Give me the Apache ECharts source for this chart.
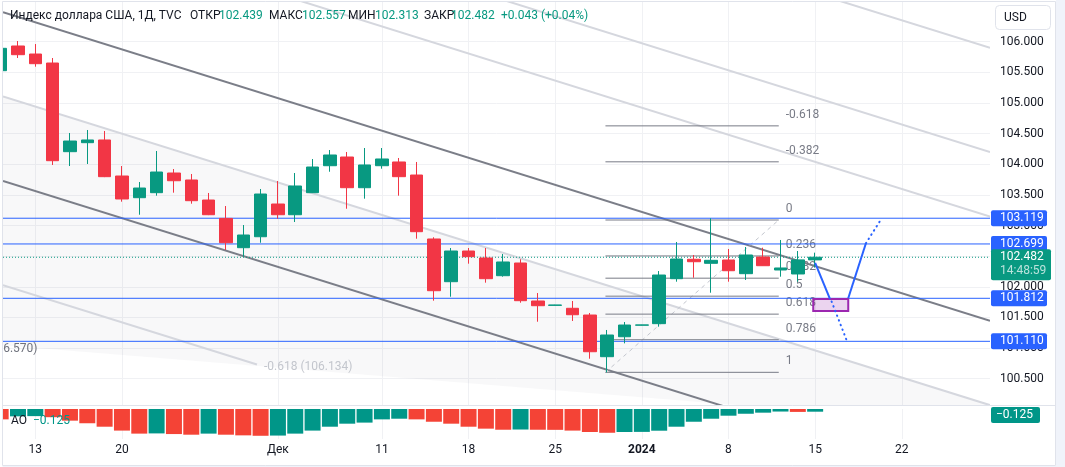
<!DOCTYPE html>
<html><head><meta charset="utf-8">
<script src="https://cdn.jsdelivr.net/npm/echarts@6/dist/echarts.min.js"></script>
<style>html,body{margin:0;padding:0;background:#fff;overflow:hidden}#c{width:1065px;height:467px}</style>
</head><body><div id="c"></div>
<script>
// ---------------- DATA ----------------
const candleDates = ['2023-11-09','2023-11-10','2023-11-13','2023-11-14','2023-11-15','2023-11-16','2023-11-17',
 '2023-11-20','2023-11-21','2023-11-22','2023-11-23','2023-11-24','2023-11-27','2023-11-28','2023-11-29','2023-11-30',
 '2023-12-01','2023-12-04','2023-12-05','2023-12-06','2023-12-07','2023-12-08','2023-12-11','2023-12-12','2023-12-13',
 '2023-12-14','2023-12-15','2023-12-18','2023-12-19','2023-12-20','2023-12-21','2023-12-22','2023-12-25','2023-12-26',
 '2023-12-27','2023-12-28','2023-12-29','2024-01-01','2024-01-02','2024-01-03','2024-01-04','2024-01-05','2024-01-08',
 '2024-01-09','2024-01-10','2024-01-11','2024-01-12','2024-01-15'];
const opens  = [105.527,105.930,105.799,105.652,104.205,104.352,104.396,103.808,103.454,103.536,103.857,103.743,103.416,103.116,102.638,102.817,
 103.351,103.176,103.536,103.976,104.118,103.617,103.976,104.037,103.824,102.780,102.083,102.584,102.470,102.181,102.388,101.768,101.697,101.649,
 101.539,100.859,101.185,101.373,101.398,102.132,102.449,102.383,102.437,102.214,102.486,102.274,102.209,102.439];
const highs  = [105.960,106.011,105.962,105.734,104.510,104.559,104.543,103.971,103.710,104.216,103.922,103.841,103.531,103.318,103.008,103.596,
 103.727,103.857,104.085,104.232,104.200,104.265,104.265,104.102,104.037,102.808,102.633,102.633,102.633,102.535,102.449,101.898,101.706,101.768,
 101.572,101.295,101.425,101.380,102.257,102.731,102.519,103.118,102.617,102.649,102.638,102.764,102.584,102.557];
const lows   = [105.500,105.734,105.592,103.988,103.971,104.004,103.790,103.389,103.176,103.487,103.536,103.356,103.170,102.600,102.491,102.719,
 103.111,103.057,103.530,103.878,103.274,103.438,103.927,103.487,102.785,101.773,101.838,102.377,102.067,102.165,101.740,101.430,101.694,101.442,
 100.826,100.604,101.077,101.370,101.349,102.083,102.148,101.903,102.083,102.111,102.340,102.165,102.083,102.313];
const closes = [105.892,105.788,105.641,104.058,104.379,104.396,103.797,103.433,103.612,103.873,103.731,103.405,103.176,102.719,102.845,103.514,
 103.176,103.645,103.955,104.151,103.617,103.988,104.086,103.797,102.899,101.936,102.584,102.491,102.132,102.405,101.773,101.691,101.703,101.544,
 100.940,101.213,101.376,101.378,102.192,102.453,102.409,102.432,102.262,102.519,102.344,102.307,102.439,102.482];
const aoValues = [-0.48,-0.34,-0.33,-0.38,-0.54,-0.66,-0.82,-1.00,-1.14,-1.13,-1.16,-1.19,-1.14,-1.19,-1.22,-1.24,
 -1.23,-1.14,-1.00,-0.82,-0.68,-0.63,-0.48,-0.45,-0.48,-0.59,-0.68,-0.82,-0.91,-0.96,-0.95,-0.96,-0.965,-1.00,
 -1.065,-1.10,-1.065,-1.06,-1.005,-0.82,-0.59,-0.45,-0.31,-0.22,-0.17,-0.118,-0.135,-0.125];
const aoPrevValue = -0.44;
const firstBarIndex = -2;                       // Nov 9 is two bars before Nov 13
const dateTickIndex  = [0, 5, 14, 20, 25, 30, 35, 40, 45, 50];
const dateTickLabels = ['13','20','Дек','11','18','25','2024','8','15','22'];
const priceTicks = [100.5,101,101.5,102,102.5,103,103.5,104,104.5,105,105.5,106];
const levelPrices = [103.119, 102.699, 101.812, 101.110];
const countdownText = '14:48:59';
const fibLevels = [-0.618,-0.382,0,0.236,0.382,0.5,0.618,0.786,1];
const fibAnchors = [[32.9, 100.604],[42.9, 103.090]];
const channelLevels = [0, 0.5, 1, 1.618, 2, 2.618];
const channelDarkLevels = [0, 1];
const channelAnchor = [-2, 103.741];
const channelSlope = -0.08845;
const channelWidth = 2.753;
const shortLevel = -0.618;                      // channel level drawn only up to its label
const shortLevelEnd = 12.79;
const fanBoundary = [[-1.864, 101.045],[40.47, 100.071],[42, 99.95]];
const levelLabels = [['-0.618 (106.134)', 13.2, 100.686, 'left'], ['(106.570)', 0.127, 100.983, 'right']];
const pathSolidA = [[45.0, 102.39],[45.86, 101.80]];
const pathSolidB = [[46.91, 101.812],[47.93, 102.71]];
const pathDotUp = [[47.93, 102.71],[48.84, 103.118]];
const pathDotDown = [[45.95, 101.76],[46.82, 101.125]];
const targetBox = [[44.89, 101.800],[46.91, 101.605]];

// ---------------- LAYOUT ----------------
const X_MIN = -1.864, X_MAX = 55.09;
const P_MIN = 100.0706, P_MAX = 106.648;
const AO_MIN = -1.3889;
const FONT = 'Roboto, "Noto Sans", sans-serif';
const GREEN = '#089981', RED = '#f23645', BLUE = '#2962ff';
const TXT = '#131722', GRID = '#f0f1f4', BORDER = '#e0e3eb';

const chart = echarts.init(document.getElementById('c'));

const candleData = candleDates.map((d, i) => [i + firstBarIndex, opens[i], closes[i], lows[i], highs[i]]);
const aoData = aoValues.map((v, i) => {
  const prev = i === 0 ? aoPrevValue : aoValues[i - 1];
  return { value: [i + firstBarIndex, v], itemStyle: { color: v > prev ? '#009688' : '#f44336' } };
});
const chPrice = (x, lvl) => channelAnchor[1] + channelSlope * (x - channelAnchor[0]) + lvl * channelWidth;

const lineEl = (a, b, style) => ({ type: 'line', shape: { x1: a[0], y1: a[1], x2: b[0], y2: b[1] }, style });

const option = {
  animation: false,
  backgroundColor: '#ffffff',
  textStyle: { fontFamily: FONT },
  grid: [
    { left: 3, right: 75, top: 2, height: 403 },
    { left: 3, right: 75, top: 409, height: 30 }
  ],
  xAxis: [
    { type: 'value', gridIndex: 0, min: X_MIN, max: X_MAX,
      axisLine: { show: false }, axisTick: { show: false, customValues: dateTickIndex },
      axisLabel: { show: false, customValues: dateTickIndex },
      splitLine: { show: true, lineStyle: { color: GRID, width: 1 } } },
    { type: 'value', gridIndex: 1, min: X_MIN, max: X_MAX,
      axisLine: { show: false }, axisTick: { show: false, customValues: dateTickIndex },
      axisLabel: { show: true, customValues: dateTickIndex, margin: 5, color: TXT, fontSize: 12, fontFamily: FONT,
        formatter: v => { const k = dateTickIndex.indexOf(Math.round(v)); const t = k >= 0 ? dateTickLabels[k] : '';
          return /^\d{4}$/.test(t) ? '{b|' + t + '}' : t; },
        rich: { b: { fontWeight: 'bold', fontSize: 12, color: TXT, fontFamily: FONT } } },
      splitLine: { show: true, lineStyle: { color: GRID, width: 1 } } }
  ],
  yAxis: [
    { type: 'value', gridIndex: 0, position: 'right', min: P_MIN, max: P_MAX, scale: true,
      axisLine: { show: false }, axisTick: { show: false, customValues: priceTicks },
      axisLabel: { customValues: priceTicks, formatter: v => v.toFixed(3), color: TXT, fontSize: 12, margin: 10, fontFamily: FONT },
      splitLine: { show: true, lineStyle: { color: GRID, width: 1 } } },
    { type: 'value', gridIndex: 1, position: 'right', min: AO_MIN, max: 0, show: false }
  ],
  series: [
    { // lower shaded zone
      type: 'custom', xAxisIndex: 0, yAxisIndex: 0, z: 1, clip: true, silent: true,
      data: [[0]],
      renderItem: (p, api) => {
        const pts = [];
        pts.push(api.coord([X_MIN, chPrice(X_MIN, 0.5)]));
        pts.push(api.coord([X_MAX, chPrice(X_MAX, 0.5)]));
        pts.push(api.coord([X_MAX, P_MIN - 1]));
        for (let i = fanBoundary.length - 1; i >= 0; i--) pts.push(api.coord(fanBoundary[i]));
        return { type: 'polygon', shape: { points: pts }, style: { fill: 'rgba(120,123,134,0.05)' } };
      }
    },
    { // channel lines
      type: 'custom', xAxisIndex: 0, yAxisIndex: 0, z: 2, clip: true, silent: true,
      data: channelLevels.map(l => [l]),
      renderItem: (p, api) => {
        const l = channelLevels[p.dataIndex];
        const dark = channelDarkLevels.indexOf(l) >= 0;
        return lineEl(api.coord([X_MIN, chPrice(X_MIN, l)]), api.coord([X_MAX, chPrice(X_MAX, l)]),
          { stroke: dark ? '#7b7e88' : '#d5d7de', lineWidth: 2 });
      }
    },
    { // short channel level at lower left with its labels
      type: 'custom', xAxisIndex: 0, yAxisIndex: 0, z: 2, clip: true, silent: true,
      data: [[0]],
      renderItem: (p, api) => {
        const ch = [lineEl(api.coord([X_MIN, chPrice(X_MIN, shortLevel)]), api.coord([shortLevelEnd, chPrice(shortLevelEnd, shortLevel)]),
          { stroke: '#d5d7de', lineWidth: 2 })];
        levelLabels.forEach((f, k) => {
          const c = api.coord([f[1], f[2]]);
          ch.push({ type: 'text', x: c[0], y: c[1], style: { text: f[0], fill: k === 0 ? '#c3c6cd' : '#6f727c',
            font: '12px ' + FONT, align: f[3], verticalAlign: 'middle' } });
        });
        return { type: 'group', children: ch };
      }
    },
    { // fib retracement
      type: 'custom', xAxisIndex: 0, yAxisIndex: 0, z: 3, clip: true, silent: true,
      data: fibLevels.map(l => [l]),
      renderItem: (p, api) => {
        const l = fibLevels[p.dataIndex];
        const price = fibAnchors[1][1] - l * (fibAnchors[1][1] - fibAnchors[0][1]);
        const a = api.coord([fibAnchors[0][0], price]), b = api.coord([fibAnchors[1][0], price]);
        const ch = [lineEl(a, b, { stroke: '#787b86', lineWidth: 1 }),
          { type: 'text', x: b[0] + 7, y: b[1] - 11, style: { text: String(l), fill: '#787b86', font: '12px ' + FONT, align: 'left', verticalAlign: 'middle' } }];
        if (p.dataIndex === 0) {
          ch.push(lineEl(api.coord(fibAnchors[0]), api.coord(fibAnchors[1]), { stroke: '#c3c6ce', lineWidth: 1, lineDash: [4, 4] }));
        }
        return { type: 'group', children: ch };
      }
    },
    { // horizontal levels and price line
      type: 'custom', xAxisIndex: 0, yAxisIndex: 0, z: 4, clip: true, silent: true,
      data: levelPrices.map(v => [v]).concat([[closes[closes.length - 1]]]),
      renderItem: (p, api) => {
        const isLast = p.dataIndex === levelPrices.length;
        const v = isLast ? closes[closes.length - 1] : levelPrices[p.dataIndex];
        return lineEl(api.coord([X_MIN, v]), api.coord([X_MAX, v]),
          isLast ? { stroke: GREEN, lineWidth: 1, lineDash: [1, 2] } : { stroke: BLUE, lineWidth: 1 });
      }
    },
    {
      type: 'candlestick', xAxisIndex: 0, yAxisIndex: 0, z: 5, clip: true,
      dimensions: ['x', 'open', 'close', 'lowest', 'highest'],
      encode: { x: 'x', y: ['open', 'close', 'lowest', 'highest'] },
      data: candleData, barWidth: 13,
      itemStyle: { color: GREEN, color0: RED, borderColor: GREEN, borderColor0: RED, borderWidth: 1 }
    },
    { // projection path
      type: 'custom', xAxisIndex: 0, yAxisIndex: 0, z: 6, clip: true, silent: true,
      data: [[0]],
      renderItem: (p, api) => {
        const b0 = api.coord(targetBox[0]), b1 = api.coord(targetBox[1]);
        const pl = (pts, style) => ({ type: 'polyline', shape: { points: pts.map(q => api.coord(q)) }, style });
        return { type: 'group', children: [
          { type: 'rect', shape: { x: b0[0], y: b0[1], width: b1[0] - b0[0], height: b1[1] - b0[1] },
            style: { fill: 'rgba(156,39,176,0.2)', stroke: '#9c27b0', lineWidth: 2 } },
          pl(pathSolidA, { stroke: BLUE, lineWidth: 2, fill: null }),
          pl(pathSolidB, { stroke: BLUE, lineWidth: 2, fill: null }),
          pl(pathDotUp, { stroke: BLUE, lineWidth: 2, lineDash: [0.5, 4.5], lineCap: 'round', fill: null }),
          pl(pathDotDown, { stroke: BLUE, lineWidth: 2, lineDash: [0.5, 4.5], lineCap: 'round', fill: null })
        ] };
      }
    },
    {
      type: 'bar', xAxisIndex: 1, yAxisIndex: 1, barWidth: 16, data: aoData, z: 3
    }
  ]
};
chart.setOption(option);

// ---------------- OVERLAYS (positioned through the axes) ----------------
const yP = v => chart.convertToPixel({ yAxisIndex: 0 }, v);
const yA = v => chart.convertToPixel({ yAxisIndex: 1 }, v);
const n = closes.length;
const lastC = closes[n - 1], prevC = closes[n - 2];
const chg = lastC - prevC, pct = chg / prevC * 100;
const sgn = v => (v >= 0 ? '+' : '\u2212') + Math.abs(v).toFixed(3);
const g = [];
const txt = (x, y, s, fill, extra) => Object.assign({ type: 'text', x, y, z: 100,
  style: Object.assign({ text: s, fill, font: '12px ' + FONT, verticalAlign: 'middle', align: 'left' }, extra || {}) });

// frame
g.push({ type: 'rect', z: 90, shape: { x: 1056, y: 0, width: 9, height: 467 }, style: { fill: '#f0f3fa' } });
g.push({ type: 'rect', z: 90, shape: { x: 0, y: 466, width: 1065, height: 1 }, style: { fill: '#f0f3fa' } });
g.push({ type: 'rect', z: 91, shape: { x: 0, y: 0, width: 2.5, height: 467 }, style: { fill: '#ffffff' } });
g.push({ type: 'line', z: 92, shape: { x1: 2.5, y1: 1.5, x2: 1055.5, y2: 1.5 }, style: { stroke: BORDER, lineWidth: 1 } });
g.push({ type: 'line', z: 92, shape: { x1: 2.5, y1: 1.5, x2: 2.5, y2: 465.5 }, style: { stroke: BORDER, lineWidth: 1 } });
g.push({ type: 'line', z: 92, shape: { x1: 1055.5, y1: 1.5, x2: 1055.5, y2: 465.5 }, style: { stroke: BORDER, lineWidth: 1 } });
g.push({ type: 'line', z: 92, shape: { x1: 2.5, y1: 465.5, x2: 1055.5, y2: 465.5 }, style: { stroke: BORDER, lineWidth: 1 } });
g.push({ type: 'line', z: 92, shape: { x1: 2.5, y1: 405.5, x2: 1055.5, y2: 405.5 }, style: { stroke: BORDER, lineWidth: 1 } });

// title
const title = [
  ['Индекс доллара США, 1Д, TVC', TXT, 10], ['ОТКР', TXT, 190], [opens[n-1].toFixed(3), GREEN, 219],
  ['МАКС', TXT, 269], [highs[n-1].toFixed(3), GREEN, 302], ['МИН', TXT, 348], [lows[n-1].toFixed(3), GREEN, 375],
  ['ЗАКР', TXT, 424], [lastC.toFixed(3), GREEN, 451],
  [sgn(chg).replace('\u2212', '-') + ' (' + (pct >= 0 ? '+' : '-') + Math.abs(pct).toFixed(2) + '%)', GREEN, 501]
];
title.forEach(t => g.push(txt(t[2], 16, t[0], t[1])));

// USD button
g.push({ type: 'rect', z: 100, shape: { x: 995.5, y: 5.5, width: 55, height: 24, r: 4 }, style: { fill: '#fff', stroke: BORDER, lineWidth: 1 } });
g.push(txt(1004, 18, 'USD', TXT));

// level labels
levelPrices.forEach(v => {
  const y = yP(v);
  g.push({ type: 'rect', z: 100, shape: { x: 991, y: y - 8, width: 56, height: 16, r: 2 }, style: { fill: BLUE } });
  g.push(txt(1000, y, v.toFixed(3), '#ffffff'));
});
// last price label
{
  const y = yP(lastC);
  g.push({ type: 'rect', z: 100, shape: { x: 991, y: y - 8, width: 60, height: 31, r: 2 }, style: { fill: GREEN } });
  g.push(txt(1000, y, lastC.toFixed(3), '#ffffff'));
  g.push(txt(1000, y + 14, countdownText, 'rgba(255,255,255,0.72)'));
}
// AO labels
{
  const v = aoValues[n - 1];
  const y = Math.max(yA(v), 415);
  g.push({ type: 'rect', z: 100, shape: { x: 991, y: y - 8, width: 49, height: 16, r: 2 }, style: { fill: '#009688' } });
  g.push(txt(996, y, sgn(v), '#ffffff'));
  g.push(txt(11, 421, 'AO', TXT));
  g.push(txt(33, 421, sgn(v), '#009688'));
}
chart.setOption({ graphic: g });
</script></body></html>
